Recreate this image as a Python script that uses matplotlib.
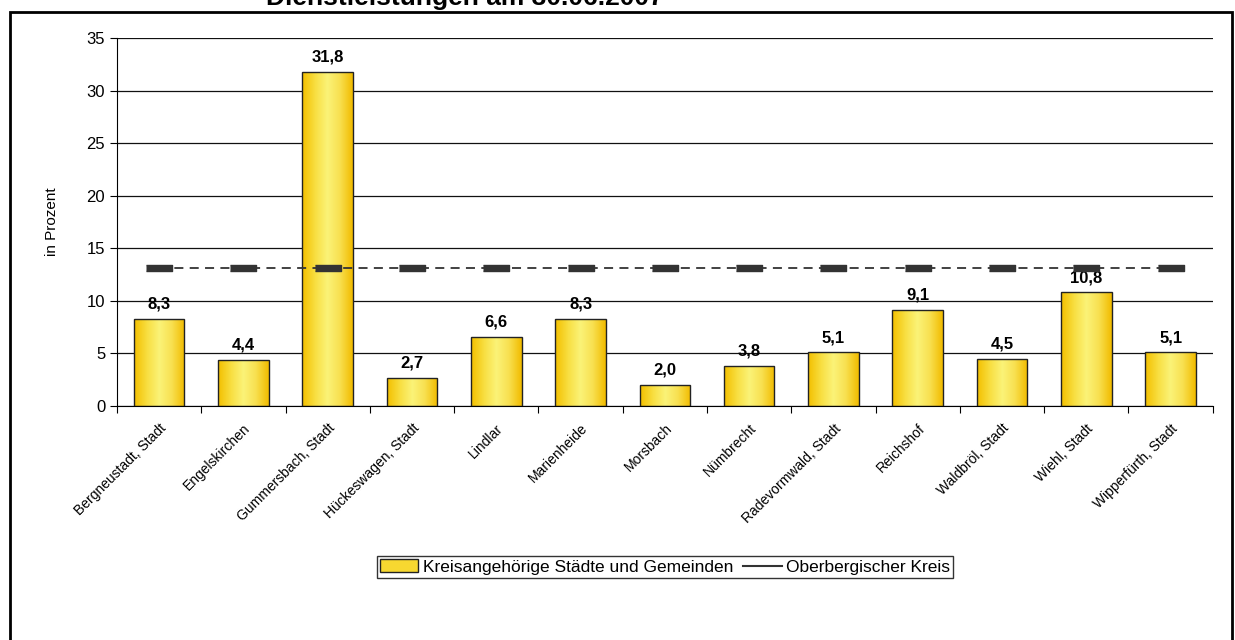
import numpy as np
import matplotlib.pyplot as plt
from matplotlib.patches import Rectangle
from matplotlib.lines import Line2D
from matplotlib.colors import LinearSegmentedColormap
from matplotlib.transforms import ScaledTranslation

plt.rcParams['font.family'] = ['Liberation Sans', 'DejaVu Sans']

gemeinden = ["Bergneustadt, Stadt", "Engelskirchen", "Gummersbach, Stadt",
             "Hückeswagen, Stadt", "Lindlar", "Marienheide", "Morsbach",
             "Nümbrecht", "Radevormwald, Stadt", "Reichshof", "Waldbröl, Stadt",
             "Wiehl, Stadt", "Wipperfürth, Stadt"]
anteil = [8.3, 4.4, 31.8, 2.7, 6.6, 8.3, 2.0, 3.8, 5.1, 9.1, 4.5, 10.8, 5.1]
kreis = [13.1] * len(gemeinden)

fig = plt.figure(figsize=(12.35, 6.4), dpi=100)
ax = fig.add_axes([0.0947, 0.3656, 0.8873, 0.575])

x = np.arange(len(gemeinden))
width = 0.6
gold = LinearSegmentedColormap.from_list(
    'gold', ['#F3C000', '#F8DE40', '#FBF378', '#F8E050', '#F2BC00'])
grad = np.linspace(0, 1, 64).reshape(1, -1)

bars = ax.bar(x, anteil, width, color='none', edgecolor='#222222',
              linewidth=1.0, zorder=3)
for b in bars:
    im = ax.imshow(grad, cmap=gold, aspect='auto', zorder=2.5,
                   extent=[b.get_x(), b.get_x() + b.get_width(), 0, b.get_height()])
    im.set_clip_path(b)

for xi, v in zip(x, anteil):
    ax.text(xi, v + 0.7, f"{v:.1f}".replace('.', ','), ha='center', va='bottom',
            fontsize=12, fontweight='bold')

ax.plot(x, kreis, color='#333333', linestyle=(0, (5, 3.5)), linewidth=1.3, zorder=4)
rect = [(-2.6, -0.5), (2.6, -0.5), (2.6, 0.5), (-2.6, 0.5)]
ax.plot(x, kreis, linestyle='none', marker=rect, markersize=19,
        color='#333333', zorder=5)

ax.set_xlim(-0.5, len(gemeinden) - 0.5)
ax.set_ylim(0, 35)
ax.set_yticks(range(0, 36, 5))
ax.yaxis.grid(True, color='#111111', linewidth=0.9)
ax.set_axisbelow(True)
ax.set_xticks(np.arange(-0.5, len(gemeinden), 1.0))
ax.set_xticklabels([])
ax.set_xticks(x, minor=True)
ax.set_xticklabels(gemeinden, minor=True, rotation=45, ha='right',
                   rotation_mode='anchor', fontsize=10)
shift = ScaledTranslation(-6 / 100, 0, fig.dpi_scale_trans)
for lbl in ax.get_xticklabels(minor=True):
    lbl.set_transform(lbl.get_transform() + shift)
ax.tick_params(axis='x', which='minor', length=0, pad=11)
ax.tick_params(axis='x', which='major', length=5, direction='out')
ax.tick_params(axis='y', length=5, direction='out', labelsize=12)
for s in ['top', 'right']:
    ax.spines[s].set_visible(False)
ax.set_ylabel('in Prozent', fontsize=11, labelpad=20)

h_bar = Rectangle((0, 0), 1, 1, facecolor='#F7D830', edgecolor='#222222')
h_line = Line2D([], [], color='#333333', linewidth=1.5)
fig.legend([h_bar, h_line],
           ['Kreisangehörige Städte und Gemeinden', 'Oberbergischer Kreis'],
           loc='center', bbox_to_anchor=(665 / 1235, 1 - 567 / 640), ncol=2,
           frameon=True, fancybox=False, edgecolor='black', fontsize=12.5,
           handlelength=2.2, handletextpad=0.25, columnspacing=0.6,
           borderpad=0.2, borderaxespad=0)

fig.patches.append(Rectangle((10 / 1235, -0.01), 1222 / 1235, 1.01 - 12 / 640,
                             transform=fig.transFigure, fill=False,
                             edgecolor='black', linewidth=2))
fig.text(465 / 1235, 1 - 5 / 640, 'Dienstleistungen am 30.06.2007', ha='center',
         va='baseline', fontsize=19, fontweight='bold')

fig.savefig('out.png', dpi=100)
